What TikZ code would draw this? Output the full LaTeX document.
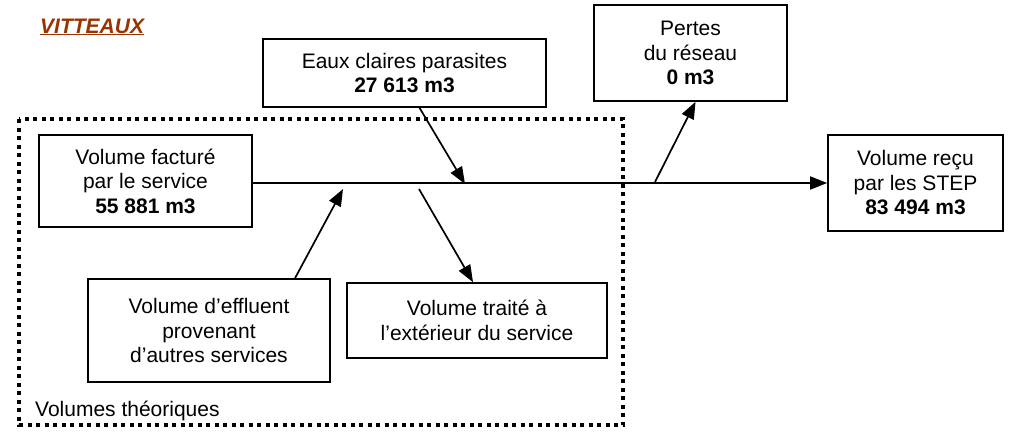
\documentclass[tikz,border=0pt]{standalone}
\usepackage{fontspec}
\setmainfont{Liberation Sans}
\usetikzlibrary{arrows.meta}
\definecolor{titlebrown}{RGB}{153,51,0}

\begin{document}
\begin{tikzpicture}[x=1pt,y=-1pt,
        box/.style={draw, line width=1.6pt, align=center, inner sep=0pt, font=\fontsize{21}{24.5}\selectfont},
        flow/.style={line width=1.7pt, -{Triangle[length=17pt,width=13pt]}}]
        \useasboundingbox (0,0) rectangle (1011,431);

        % Title
        \node[anchor=base west, inner sep=0pt, text=titlebrown, font=\fontsize{21}{24.5}\selectfont\bfseries\itshape] (title) at (40,33) {\underline{VITTEAUX}};

        % Dotted frame for the theoretical volumes
        \draw[line width=4pt, dash pattern=on 4pt off 4.5pt] (19,119) rectangle (623,425);
        \node[anchor=base west, inner sep=0pt, font=\fontsize{21}{24.5}\selectfont] (theo) at (35,416) {Volumes théoriques};

        % Boxes
        \node[box, minimum width=213pt, minimum height=92pt] (factu) at (145.5,181) {Volume facturé\\par le service\\\textbf{55 881 m3}};
        \node[box, minimum width=283pt, minimum height=68pt] (eaux) at (404.5,73) {Eaux claires parasites\\\textbf{27 613 m3}};
        \node[box, minimum width=193pt, minimum height=96pt] (pertes) at (690.5,53) {Pertes\\du réseau\\\textbf{0 m3}};
        \node[box, minimum width=175pt, minimum height=96pt] (step) at (915.5,183) {Volume reçu\\par les STEP\\\textbf{83 494 m3}};
        \node[box, minimum width=242pt, minimum height=103pt] (effl) at (209,330.5) {Volume d’effluent\\provenant\\d’autres services};
        \node[box, minimum width=260pt, minimum height=75pt] (trait) at (477,320.5) {Volume traité à\\l’extérieur du service};

        % Points on the main line
        \coordinate (inEaux) at (465,184);
        \coordinate (inEffl) at (343,189);
        \coordinate (outTrait) at (419,189);
        \coordinate (outPertes) at (655,182);

        % Main line
        \draw[flow] (factu.east |- step.west) -- (step.west);

        % Inflows and outflows
        \draw[flow] ([xshift=15pt]eaux.south) -- (inEaux);
        \draw[flow] ([xshift=86pt]effl.north) -- (inEffl);
        \draw[flow] (outTrait) -- ([xshift=-4pt]trait.north);
        \draw[flow] (outPertes) -- ([xshift=5pt]pertes.south);
\end{tikzpicture}
\end{document}
